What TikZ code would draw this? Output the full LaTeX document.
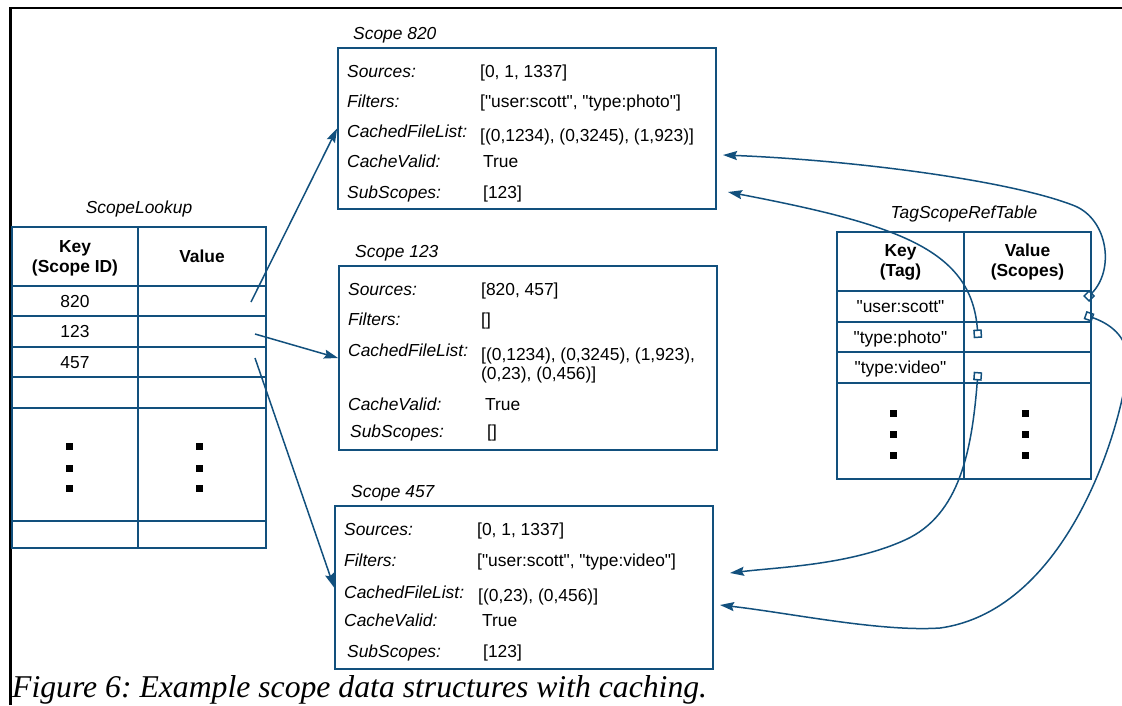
\documentclass[tikz,border=0pt]{standalone}
\usepackage{fontspec}
\newfontfamily\diagramfont{Liberation Sans}
\newfontfamily\captionfont{Liberation Serif}
\usetikzlibrary{arrows.meta}
\definecolor{linkblue}{RGB}{18,80,125}

\tikzset{
  txt/.style={inner sep=0pt, font=\diagramfont\fontsize{17.4}{21}\selectfont},
  fieldkey/.style={txt, anchor=base west, font=\diagramfont\fontsize{17.4}{21}\selectfont\itshape},
  fieldval/.style={txt, anchor=base west},
  tabletitle/.style={txt, anchor=base, font=\diagramfont\fontsize{17.4}{21}\selectfont\itshape},
  headtxt/.style={txt, align=center, font=\diagramfont\fontsize{17.4}{20}\selectfont\bfseries},
  celltxt/.style={txt, anchor=base},
  scopebox/.style={draw=linkblue, line width=1.8pt, inner sep=0pt, minimum width=378pt},
  tableline/.style={linkblue, line width=1.8pt},
  ptr/.style={linkblue, line width=1.5pt, -{Stealth[length=14pt,width=9pt,inset=2pt]}},
  refptr/.style={ptr, {Square[open,length=8.5pt,width=8.5pt]}-{Stealth[length=14pt,width=9pt,inset=2pt]}},
}

\begin{document}
\frenchspacing
\begin{tikzpicture}[x=1pt,y=-1pt]
  \useasboundingbox (0,0) rectangle (1122,705);
  \clip (0,0) rectangle (1122,705);
  \draw[line width=2.6pt] (10.5,705) -- (10.5,8) -- (1122,8);

  % ScopeLookup
  \node[tabletitle] (lookuptitle) at (139,213) {ScopeLookup};
  \draw[tableline] (12,227) rectangle (266,548);
  \draw[tableline] (138,227) -- (138,548);
  \foreach \y in {286,316,347,377,408,521}
    \draw[tableline] (12,\y) -- (266,\y);
  \node[headtxt] (lookupkey) at (75,258.5) {Key\\(Scope ID)};
  \node[headtxt] (lookupval) at (202,256) {Value};
  \node[celltxt] (row820) at (75,307) {820};
  \node[celltxt] (row123) at (75,337.5) {123};
  \node[celltxt] (row457) at (75,368) {457};
  \foreach \x in {66,195.5}
    \foreach \y in {443,464.5,485}
      \fill (\x,\y) rectangle +(7,7);

  % Scope 820
  \node[fieldkey] (t820) at (353,39) {Scope 820};
  \node[scopebox, minimum height=161pt] (s820) at (527,128.5) {};
  \node[fieldkey] (k820a) at (347,77) {Sources:};
  \node[fieldval] (v820a) at (480,77) {[0, 1, 1337]};
  \node[fieldkey] (k820b) at (347,107.5) {Filters:};
  \node[fieldval] (v820b) at (480,107.5) {["user:scott", "type:photo"]};
  \node[fieldkey] (k820c) at (347,137.5) {CachedFileList:};
  \node[fieldval] (v820c) at (480,141.5) {[(0,1234), (0,3245), (1,923)]};
  \node[fieldkey] (k820d) at (347,167.5) {CacheValid:};
  \node[fieldval] (v820d) at (483,167.5) {True};
  \node[fieldkey] (k820e) at (347,198) {SubScopes:};
  \node[fieldval] (v820e) at (483,198) {[123]};

  % Scope 123
  \node[fieldkey] (t123) at (355,257) {Scope 123};
  \node[scopebox, minimum height=184pt] (s123) at (528,358) {};
  \node[fieldkey] (k123a) at (348,295) {Sources:};
  \node[fieldval] (v123a) at (481,295) {[820, 457]};
  \node[fieldkey] (k123b) at (348,325) {Filters:};
  \node[fieldval] (v123b) at (481,325) {[]};
  \node[fieldkey] (k123c) at (348,356) {CachedFileList:};
  \node[fieldval] (v123c) at (481,360) {[(0,1234), (0,3245), (1,923),};
  \node[fieldval] (v123d) at (481,379.5) {(0,23), (0,456)]};
  \node[fieldkey] (k123d) at (348,410) {CacheValid:};
  \node[fieldval] (v123e) at (485,410) {True};
  \node[fieldkey] (k123e) at (350,437.5) {SubScopes:};
  \node[fieldval] (v123f) at (487,437.5) {[]};

  % Scope 457
  \node[fieldkey] (t457) at (351,497) {Scope 457};
  \node[scopebox, minimum height=163pt] (s457) at (524,587.5) {};
  \node[fieldkey] (k457a) at (344,535) {Sources:};
  \node[fieldval] (v457a) at (477,535) {[0, 1, 1337]};
  \node[fieldkey] (k457b) at (344,566.5) {Filters:};
  \node[fieldval] (v457b) at (477,566.5) {["user:scott", "type:video"]};
  \node[fieldkey] (k457c) at (344,598) {CachedFileList:};
  \node[fieldval] (v457c) at (478,601.5) {[(0,23), (0,456)]};
  \node[fieldkey] (k457d) at (344,626.5) {CacheValid:};
  \node[fieldval] (v457d) at (482,626.5) {True};
  \node[fieldkey] (k457e) at (347,657.5) {SubScopes:};
  \node[fieldval] (v457e) at (483,657.5) {[123]};

  % TagScopeRefTable
  \node[tabletitle] (tagtitle) at (964,218) {TagScopeRefTable};
  \draw[tableline] (837,232) rectangle (1091,479);
  \draw[tableline] (964,232) -- (964,479);
  \foreach \y in {291,322,352,383}
    \draw[tableline] (837,\y) -- (1091,\y);
  \node[headtxt] (tagkey) at (900.5,262) {Key\\(Tag)};
  \node[headtxt] (tagval) at (1027.5,262) {Value\\(Scopes)};
  \node[celltxt] (rowscott) at (900.5,312.5) {"user:scott"};
  \node[celltxt] (rowphoto) at (900.5,343) {"type:photo"};
  \node[celltxt] (rowvideo) at (900.5,373.5) {"type:video"};
  \foreach \x in {889.5,1022}
    \foreach \y in {410,431,452}
      \fill (\x,\y) rectangle +(7,7);

  % lookup pointers
  \coordinate (p820) at (251,302);
  \coordinate (p123) at (255,334);
  \coordinate (p457) at (255,358);
  \draw[ptr] (p820) -- (s820.west);
  \draw[ptr] (p123) -- (s123.west);
  \draw[ptr] (p457) -- (s457.west);

  % tag references
  \coordinate (scottA) at (1086,299);
  \coordinate (scottB) at (1085,315);
  \coordinate (photo) at (978,338);
  \coordinate (video) at (978,372);
  \coordinate (in820a) at (723,155);
  \coordinate (in820b) at (728,192);
  \coordinate (in457a) at (730,573);
  \coordinate (in457b) at (720,605);
  \draw[refptr] (scottA) .. controls (1115,270) and (1108,220) .. (1075,206)
    .. controls (1010,180) and (850,160) .. (in820a);
  \draw[refptr] (photo) .. controls (972,250) and (900,225) .. (in820b);
  \draw[refptr] (scottB) .. controls (1108,323) and (1128,335) .. (1128,362)
    .. controls (1124,420) and (1070,610) .. (940,628)
    .. controls (880,632) and (790,613) .. (in457b);
  \draw[refptr] (video) .. controls (972,450) and (960,515) .. (905,540)
    .. controls (850,565) and (780,567) .. (in457a);

  \node[anchor=base west, inner sep=0pt, font={\captionfont\itshape\fontsize{31.7}{36}\selectfont}] (caption) at (12,697) {Figure 6: Example scope data structures with caching.};
\end{tikzpicture}
\end{document}
